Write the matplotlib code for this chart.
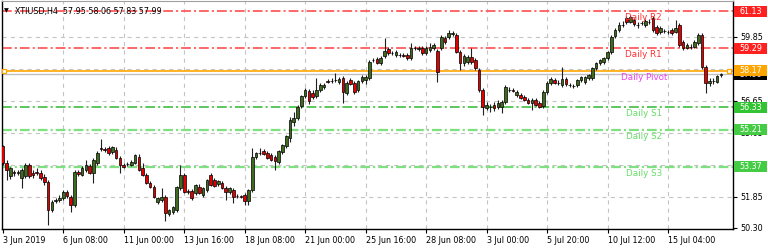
import numpy as np
import matplotlib.pyplot as plt
import matplotlib.transforms as mtransforms
from matplotlib.patches import Rectangle

plt.rcParams['font.family'] = 'DejaVu Sans'
plt.rcParams['lines.scale_dashes'] = False

## H4 candles, XTIUSD, 3 Jun - 16 Jul 2019
opens = [
    54.40, 53.55, 52.90, 53.10, 53.05, 52.80, 52.90, 53.45, 53.05, 53.10,
    53.05, 52.85, 52.60, 51.20, 51.65, 51.70, 51.80, 52.10, 51.85, 51.45,
    53.10, 52.95, 53.20, 53.40, 53.05, 53.55, 54.30, 54.25, 54.30, 54.10,
    54.20, 53.80, 53.45, 53.50, 53.45, 53.55, 53.85, 53.30, 52.95, 52.55,
    52.35, 51.60, 51.70, 51.85, 51.00, 51.10, 51.20, 52.30, 52.95, 52.15,
    52.15, 52.05, 52.35, 51.95, 52.20, 52.95, 52.70, 52.50, 52.55, 52.30,
    52.10, 52.20, 51.90, 51.90, 51.95, 51.65, 52.20, 53.85, 54.05, 54.15,
    54.05, 53.95, 53.85, 53.60, 54.10, 54.40, 54.80, 55.60, 55.80, 56.40,
    56.90, 57.15, 57.05, 56.90, 57.20, 57.35, 57.65, 57.65, 57.70, 57.60,
    57.80, 57.05, 57.70, 57.55, 57.20, 57.65, 57.70, 57.80, 58.70, 58.75,
    58.55, 58.90, 59.25, 59.05, 58.95, 58.95, 58.95, 58.95, 58.80, 59.30,
    59.25, 59.30, 59.05, 59.20, 59.30, 59.15, 59.30, 59.80, 59.85, 60.00,
    59.95, 59.10, 58.55, 58.60, 58.85, 58.70, 58.20, 57.20, 56.30, 56.35,
    56.45, 56.35, 56.35, 56.60, 57.20, 57.20, 56.95, 56.95, 56.85, 56.70,
    56.55, 56.70, 56.55, 56.40, 57.10, 57.55, 57.70, 57.55, 57.45, 57.75,
    57.45, 57.40, 57.45, 57.70, 57.60, 57.80, 57.80, 58.30, 58.55, 58.60,
    58.80, 59.10, 59.90, 60.20, 60.45, 60.80, 60.60, 60.70, 60.45, 60.55,
    60.45, 60.60, 60.80, 60.35, 60.10, 60.15, 60.10, 60.20, 60.10, 60.45,
    59.60, 59.30, 59.35, 59.35, 59.55, 59.95, 58.35, 57.55, 57.65, 57.60,
    57.95,
]
highs = [
    54.45, 53.70, 53.35, 53.20, 53.20, 53.30, 53.55, 53.55, 53.20, 53.30,
    53.20, 53.00, 52.70, 51.70, 51.80, 51.95, 52.20, 52.20, 51.95, 53.20,
    53.20, 53.40, 53.70, 53.50, 53.80, 54.15, 54.75, 54.35, 54.40, 54.40,
    54.35, 53.90, 53.55, 53.60, 53.70, 54.00, 54.00, 53.55, 53.05, 52.65,
    52.45, 51.85, 52.30, 51.95, 51.25, 51.40, 52.40, 53.45, 53.05, 52.25,
    52.25, 52.50, 52.50, 52.35, 52.75, 53.05, 52.80, 52.70, 52.65, 52.40,
    52.35, 52.30, 52.00, 51.95, 52.05, 52.25, 54.30, 54.10, 54.30, 54.25,
    54.15, 54.05, 53.95, 54.20, 54.50, 54.95, 55.85, 56.10, 56.45, 56.95,
    57.30, 57.25, 57.20, 57.80, 57.55, 57.55, 57.75, 57.80, 58.05, 57.85,
    57.90, 57.65, 57.80, 57.65, 57.70, 57.95, 57.95, 58.70, 58.80, 58.85,
    58.90, 59.80, 59.35, 59.15, 59.20, 59.05, 59.05, 59.05, 59.55, 59.40,
    59.40, 59.40, 59.40, 59.55, 59.55, 59.25, 59.95, 59.90, 60.20, 60.15,
    60.05, 59.20, 59.00, 58.95, 59.30, 58.80, 58.30, 57.30, 56.60, 56.50,
    56.60, 56.70, 56.70, 57.45, 57.35, 57.30, 57.20, 57.05, 56.95, 56.80,
    56.80, 56.80, 56.65, 57.20, 57.65, 57.85, 57.80, 57.70, 58.35, 57.85,
    57.55, 57.50, 57.75, 57.90, 57.90, 58.00, 58.35, 58.60, 58.75, 58.85,
    59.15, 59.95, 60.30, 60.60, 60.65, 60.90, 60.95, 60.80, 60.60, 60.65,
    60.75, 60.75, 60.90, 60.45, 60.40, 60.25, 60.20, 60.30, 60.70, 60.55,
    59.70, 59.55, 59.50, 59.70, 60.05, 60.05, 58.45, 57.80, 57.80, 57.95,
    58.06,
]
lows = [
    53.45, 52.70, 52.75, 52.90, 52.95, 52.30, 52.80, 52.80, 52.80, 52.95,
    52.70, 52.45, 50.45, 51.10, 51.55, 51.60, 51.70, 51.80, 51.10, 51.35,
    52.90, 52.90, 53.10, 53.00, 52.55, 53.45, 54.15, 54.10, 53.95, 54.00,
    53.75, 53.05, 53.30, 53.40, 53.40, 53.50, 53.15, 52.90, 52.50, 52.30,
    51.80, 51.50, 51.60, 50.65, 50.90, 51.00, 51.10, 52.20, 52.05, 52.00,
    51.70, 51.95, 52.00, 51.85, 52.10, 52.40, 52.35, 52.40, 52.25, 51.70,
    52.00, 51.55, 51.80, 51.80, 51.45, 51.45, 52.10, 53.75, 53.95, 53.95,
    53.75, 53.65, 53.20, 53.50, 54.00, 54.30, 54.60, 55.40, 55.70, 56.30,
    56.80, 56.50, 56.75, 56.80, 57.10, 57.25, 57.55, 57.55, 57.60, 57.50,
    56.55, 56.95, 57.45, 57.00, 57.10, 57.55, 57.50, 57.70, 58.60, 58.50,
    58.45, 58.80, 58.95, 58.95, 58.85, 58.85, 58.85, 58.70, 58.70, 59.20,
    59.15, 58.95, 58.95, 59.10, 59.20, 57.60, 59.20, 59.50, 59.75, 59.90,
    59.05, 58.20, 58.40, 58.50, 58.50, 58.20, 57.10, 55.95, 56.20, 56.10,
    56.15, 56.25, 56.05, 56.50, 57.10, 57.10, 56.85, 56.75, 56.65, 56.50,
    56.20, 56.40, 56.30, 56.30, 57.00, 57.45, 57.50, 57.45, 57.35, 57.40,
    57.35, 57.30, 57.35, 57.60, 57.50, 57.70, 57.70, 58.20, 58.45, 58.50,
    58.70, 59.00, 59.80, 60.10, 60.35, 60.50, 60.55, 60.40, 60.30, 60.45,
    60.35, 60.50, 60.10, 59.95, 60.00, 60.05, 60.00, 59.95, 60.05, 59.35,
    59.20, 59.25, 59.25, 59.30, 59.45, 58.25, 57.05, 57.40, 57.50, 57.55,
    57.83,
]
closes = [
    53.55, 53.20, 53.30, 53.05, 53.10, 53.20, 53.45, 52.90, 52.95, 53.05,
    52.80, 52.60, 51.20, 51.60, 51.70, 51.80, 52.10, 51.90, 51.45, 53.10,
    53.00, 53.30, 53.45, 53.05, 53.70, 54.05, 54.25, 54.20, 54.05, 54.35,
    53.80, 53.45, 53.35, 53.50, 53.60, 53.95, 53.20, 52.95, 52.55, 52.35,
    51.85, 51.80, 51.85, 51.05, 51.20, 51.35, 52.35, 52.95, 52.10, 52.10,
    51.80, 52.45, 52.05, 52.30, 52.70, 52.45, 52.40, 52.65, 52.30, 52.10,
    52.30, 51.85, 51.90, 51.85, 51.65, 52.20, 53.85, 54.05, 54.05, 54.00,
    53.80, 53.70, 53.65, 54.15, 54.45, 54.90, 55.70, 55.80, 56.35, 56.90,
    57.20, 56.65, 56.85, 57.20, 57.45, 57.45, 57.60, 57.65, 57.70, 57.75,
    57.10, 57.55, 57.50, 57.10, 57.65, 57.85, 57.85, 58.60, 58.70, 58.55,
    58.80, 59.15, 59.05, 59.05, 59.10, 58.95, 58.90, 58.80, 59.30, 59.30,
    59.30, 59.05, 59.30, 59.35, 59.45, 58.10, 59.85, 59.60, 60.05, 60.05,
    59.10, 58.55, 58.90, 58.85, 58.60, 58.30, 57.20, 56.35, 56.45, 56.35,
    56.30, 56.55, 56.60, 57.35, 57.20, 57.15, 57.10, 56.80, 56.70, 56.55,
    56.70, 56.45, 56.35, 57.10, 57.55, 57.75, 57.55, 57.55, 57.75, 57.50,
    57.45, 57.40, 57.70, 57.85, 57.85, 57.95, 58.30, 58.55, 58.70, 58.80,
    59.10, 59.85, 60.20, 60.45, 60.45, 60.60, 60.85, 60.50, 60.45, 60.55,
    60.65, 60.60, 60.20, 60.05, 60.30, 60.15, 60.10, 60.05, 60.30, 59.45,
    59.30, 59.45, 59.35, 59.60, 59.95, 58.35, 57.55, 57.65, 57.65, 57.90,
    57.99,
]

time_labels = ['3 Jun 2019', '6 Jun 08:00', '11 Jun 00:00', '13 Jun 16:00',
               '18 Jun 08:00', '21 Jun 00:00', '25 Jun 16:00', '28 Jun 08:00',
               '3 Jul 00:00', '5 Jul 20:00', '10 Jul 12:00', '15 Jul 04:00']
bars_per_label = 16

# daily pivot levels
level_names = ['Daily R2', 'Daily R1', 'Daily Pivot', 'Daily S1', 'Daily S2', 'Daily S3']
level_values = [61.13, 59.29, 58.17, 56.33, 55.21, 53.37]
level_colors = ['#ff5a5a', '#ff5a5a', '#ffa500', '#30b830', '#7ee07e', '#7ee07e']
level_widths = [1.3, 1.3, 1.2, 1.1, 1.6, 1.6]
text_colors = ['#ff3030', '#ff3030', '#f040f0', '#66dd66', '#66dd66', '#66dd66']
box_colors = ['#ff2020', '#ff2020', '#ffa500', '#33c433', '#44cc44', '#44cc44']

price_grid = [51.85, 53.45, 55.05, 56.65, 58.25, 59.85]
price_ticks = [50.30, 51.85, 55.05, 56.65, 59.85]
last_price = 57.99

o = np.array(opens); h = np.array(highs); l = np.array(lows); c = np.array(closes)
n = len(c)
x = np.arange(n)

fig = plt.figure(figsize=(7.68, 2.5), dpi=100)
ax = fig.add_axes([2/768., 21/250., 731/768., 228/250.])
ax.set_xlim(-0.2, 193.2)
ax.set_ylim(50.25, 61.65)

tick_pos = np.arange(len(time_labels)) * bars_per_label

# grid
for xp in tick_pos[1:]:
    ax.axvline(xp, color='#c4c4c4', lw=0.8, ls=(0, (3, 3)), zorder=0.5)
for yp in price_grid:
    ax.axhline(yp, color='#c4c4c4', lw=0.8, ls=(0, (3, 3)), zorder=0.5)

# pivot lines
for v, col, lw, name in zip(level_values, level_colors, level_widths, level_names):
    if name == 'Daily Pivot':
        ax.axhline(v, color=col, lw=lw, zorder=1)
    else:
        ax.axhline(v, color=col, lw=lw, ls=(0, (7, 2.2, 1.5, 2.2)), zorder=1)
ax.axhline(last_price, color='#c0c0c0', lw=1.0, zorder=1)

# selection squares on the pivot line
ax.plot([0.35, 192.1], [level_values[2], level_values[2]], ls='none', marker='s',
        ms=3.2, mfc='white', mec='#ffa500', mew=0.9, clip_on=False, zorder=6)

# candles
up = c >= o
body_bot = np.minimum(o, c)
body_h = np.maximum(np.abs(c - o), 0.02)
ax.vlines(x, l, h, color='#202020', lw=0.8, zorder=3)
ax.bar(x, body_h, 0.7, bottom=body_bot, color=np.where(up, '#3f6b1f', '#e00000'),
       edgecolor='black', linewidth=0.5, zorder=4)

# level texts
for v, name, tc in zip(level_values, level_names, text_colors):
    ax.text(169.6, v - 0.1, name, color=tc, fontsize=6.3, ha='center', va='top', zorder=7)

# axis styling
for s in ['left', 'bottom', 'right']:
    ax.spines[s].set_color('black')
    ax.spines[s].set_linewidth(1.0)
ax.spines['top'].set_color('#a0a0a0')

ax.set_xticks(tick_pos)
ax.set_xticklabels(time_labels, ha='left')
ax.tick_params(axis='x', length=3, width=0.8, pad=2, labelsize=5.8)
ax.yaxis.tick_right()
ax.set_yticks(price_ticks)
ax.set_yticklabels(['%.2f' % p for p in price_ticks])
ax.tick_params(axis='y', length=3, width=0.8, pad=2, labelsize=5.8)

# price boxes on the right scale
trans = mtransforms.blended_transform_factory(ax.transAxes, ax.transData)
bw, bh = 0.045, 0.55
ax.add_patch(Rectangle((1.0014, last_price - bh / 2), bw, bh, transform=trans,
                       facecolor='black', edgecolor='none', clip_on=False, zorder=10))
ax.text(1.0014 + bw / 2, last_price, '%.2f' % last_price, transform=trans, color='white',
        fontsize=5.8, ha='center', va='center', clip_on=False, zorder=10.5)
for v, bc in zip(level_values, box_colors):
    ax.add_patch(Rectangle((1.0014, v - bh / 2), bw, bh, transform=trans,
                           facecolor=bc, edgecolor='none', clip_on=False, zorder=11))
    ax.text(1.0014 + bw / 2, v, '%.2f' % v, transform=trans, color='white',
            fontsize=5.8, ha='center', va='center', clip_on=False, zorder=12)

# header
ax.text(0.0025, 0.955, u'\u25bc', transform=ax.transAxes, fontsize=4.5, color='black',
        va='center', ha='left', zorder=8)
ax.text(0.0175, 0.955, 'XTIUSD,H4  57.95 58.06 57.83 57.99', transform=ax.transAxes,
        fontsize=5.8, color='black', va='center', ha='left', zorder=8)

fig.savefig('out.png', dpi=100)
